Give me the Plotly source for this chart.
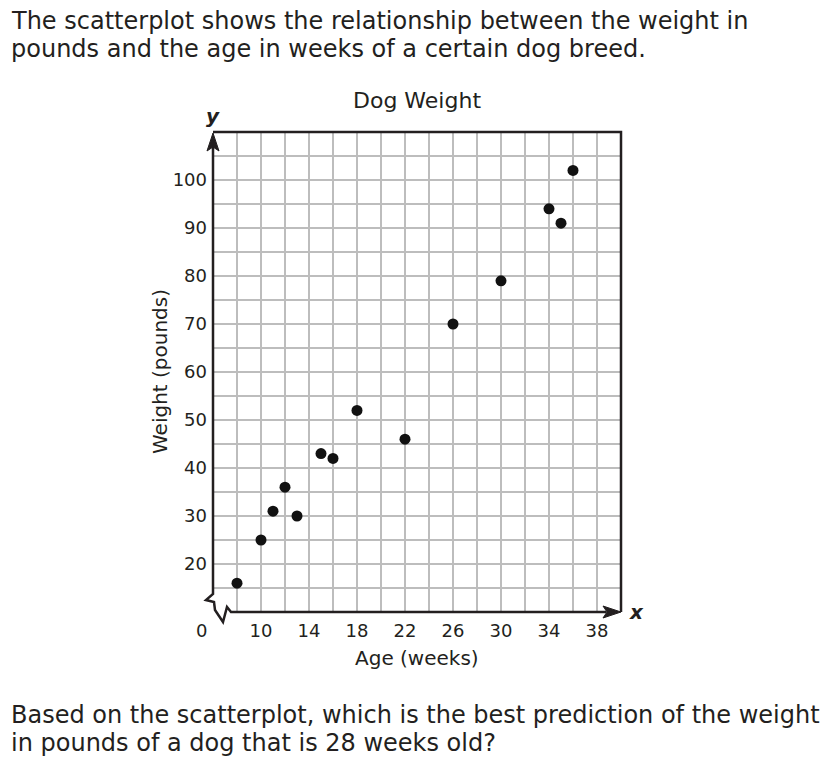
import plotly.graph_objects as go

# ---- data ----
age_weeks = [8, 10, 11, 12, 13, 15, 16, 18, 22, 26, 30, 34, 35, 36]
weight_lb = [16, 25, 31, 36, 30, 43, 42, 52, 46, 70, 79, 94, 91, 102]
x_ticks = [10, 14, 18, 22, 26, 30, 34, 38]
y_ticks = [20, 30, 40, 50, 60, 70, 80, 90, 100]

X_MIN, X_MAX = 6, 40
Y_MIN, Y_MAX = 10, 110

OFF = 8                      # default page body margin
FIG_W, FIG_H = 832 - 2 * OFF, 766 - 2 * OFF
L, T, W, H = 213, 132, 408, 480   # page pixel positions of plot area
ML, MT = L - OFF, T - OFF
MR = FIG_W - ML - W
MB = FIG_H - MT - H

FONT = "DejaVu Sans"
INK = "#231f20"
GRID = "#bdbdbd"


def pxp(px):
    return (px - L) / W


def pyp(py):
    return (T + H - py) / H


def path(points, close=False):
    s = "M " + " L ".join(f"{pxp(a):.5f},{pyp(b):.5f}" for a, b in points)
    return s + (" Z" if close else "")


fig = go.Figure()
fig.add_trace(go.Scatter(
    x=age_weeks, y=weight_lb, mode="markers",
    marker=dict(color="#111111", size=11),
    hoverinfo="skip", showlegend=False,
))

shapes = [
    dict(type="path", xref="paper", yref="paper",
         path=path([(L, T), (L + W, T), (L + W, T + H)]),
         line=dict(color=INK, width=2.5)),
    dict(type="path", xref="paper", yref="paper",
         path=path([(L, 146), (L, 594), (206, 600), (214, 602), (215, 610),
                    (223, 622), (227, 607), (231, 612), (606, 612)]),
         line=dict(color=INK, width=2.5)),
    dict(type="path", xref="paper", yref="paper",
         path=path([(L, T + 1), (L - 6, 151), (L, 147), (L + 6, 151)], close=True),
         fillcolor=INK, line=dict(color=INK, width=1)),
    dict(type="path", xref="paper", yref="paper",
         path=path([(L + W, 612), (603, 606), (607, 612), (603, 618)], close=True),
         fillcolor=INK, line=dict(color=INK, width=1)),
]


def txt(text, px, py, size, xanchor="center", angle=0):
    return dict(text=text, x=pxp(px), y=pyp(py), xref="paper", yref="paper",
                xanchor=xanchor, yanchor="middle", textangle=angle, showarrow=False,
                font=dict(family=FONT, size=size, color=INK))


annotations = [
    txt("The scatterplot shows the relationship between the weight in", 9, 21, 24, "left"),
    txt("pounds and the age in weeks of a certain dog breed.", 9, 49, 24, "left"),
    txt("Based on the scatterplot, which is the best prediction of the weight", 9, 715, 24, "left"),
    txt("in pounds of a dog that is 28 weeks old?", 9, 743, 24, "left"),
    txt("Dog Weight", 417, 101, 22),
    txt("Age (weeks)", 417, 658, 20),
    txt("Weight (pounds)", 160, 372, 20, angle=-90),
    txt("0", 201, 630, 18),
    txt("<b><i>y</i></b>", 213, 116, 20),
    txt("<b><i>x</i></b>", 636, 612, 20),
]

fig.update_layout(
    width=FIG_W, height=FIG_H,
    margin=dict(l=ML, r=MR, t=MT, b=MB, pad=0),
    paper_bgcolor="white", plot_bgcolor="white",
    shapes=shapes, annotations=annotations,
    xaxis=dict(
        range=[X_MIN, X_MAX], tickmode="array", tickvals=x_ticks,
        ticktext=[str(v) for v in x_ticks], ticks="", showline=False, zeroline=False,
        showgrid=True, gridcolor=GRID, gridwidth=2, ticklabelstandoff=6,
        minor=dict(tickmode="array", tickvals=list(range(X_MIN + 2, X_MAX, 2)),
                   showgrid=True, gridcolor=GRID, gridwidth=2, ticks=""),
        tickfont=dict(family=FONT, size=18, color=INK), fixedrange=True,
    ),
    yaxis=dict(
        range=[Y_MIN, Y_MAX], tickmode="array", tickvals=y_ticks,
        ticktext=[str(v) for v in y_ticks], ticks="", showline=False, zeroline=False,
        showgrid=True, gridcolor=GRID, gridwidth=2, ticklabelstandoff=5,
        minor=dict(tickmode="array", tickvals=list(range(Y_MIN + 5, Y_MAX, 5)),
                   showgrid=True, gridcolor=GRID, gridwidth=2, ticks=""),
        tickfont=dict(family=FONT, size=18, color=INK), fixedrange=True,
    ),
)

fig.write_html("out.html")
